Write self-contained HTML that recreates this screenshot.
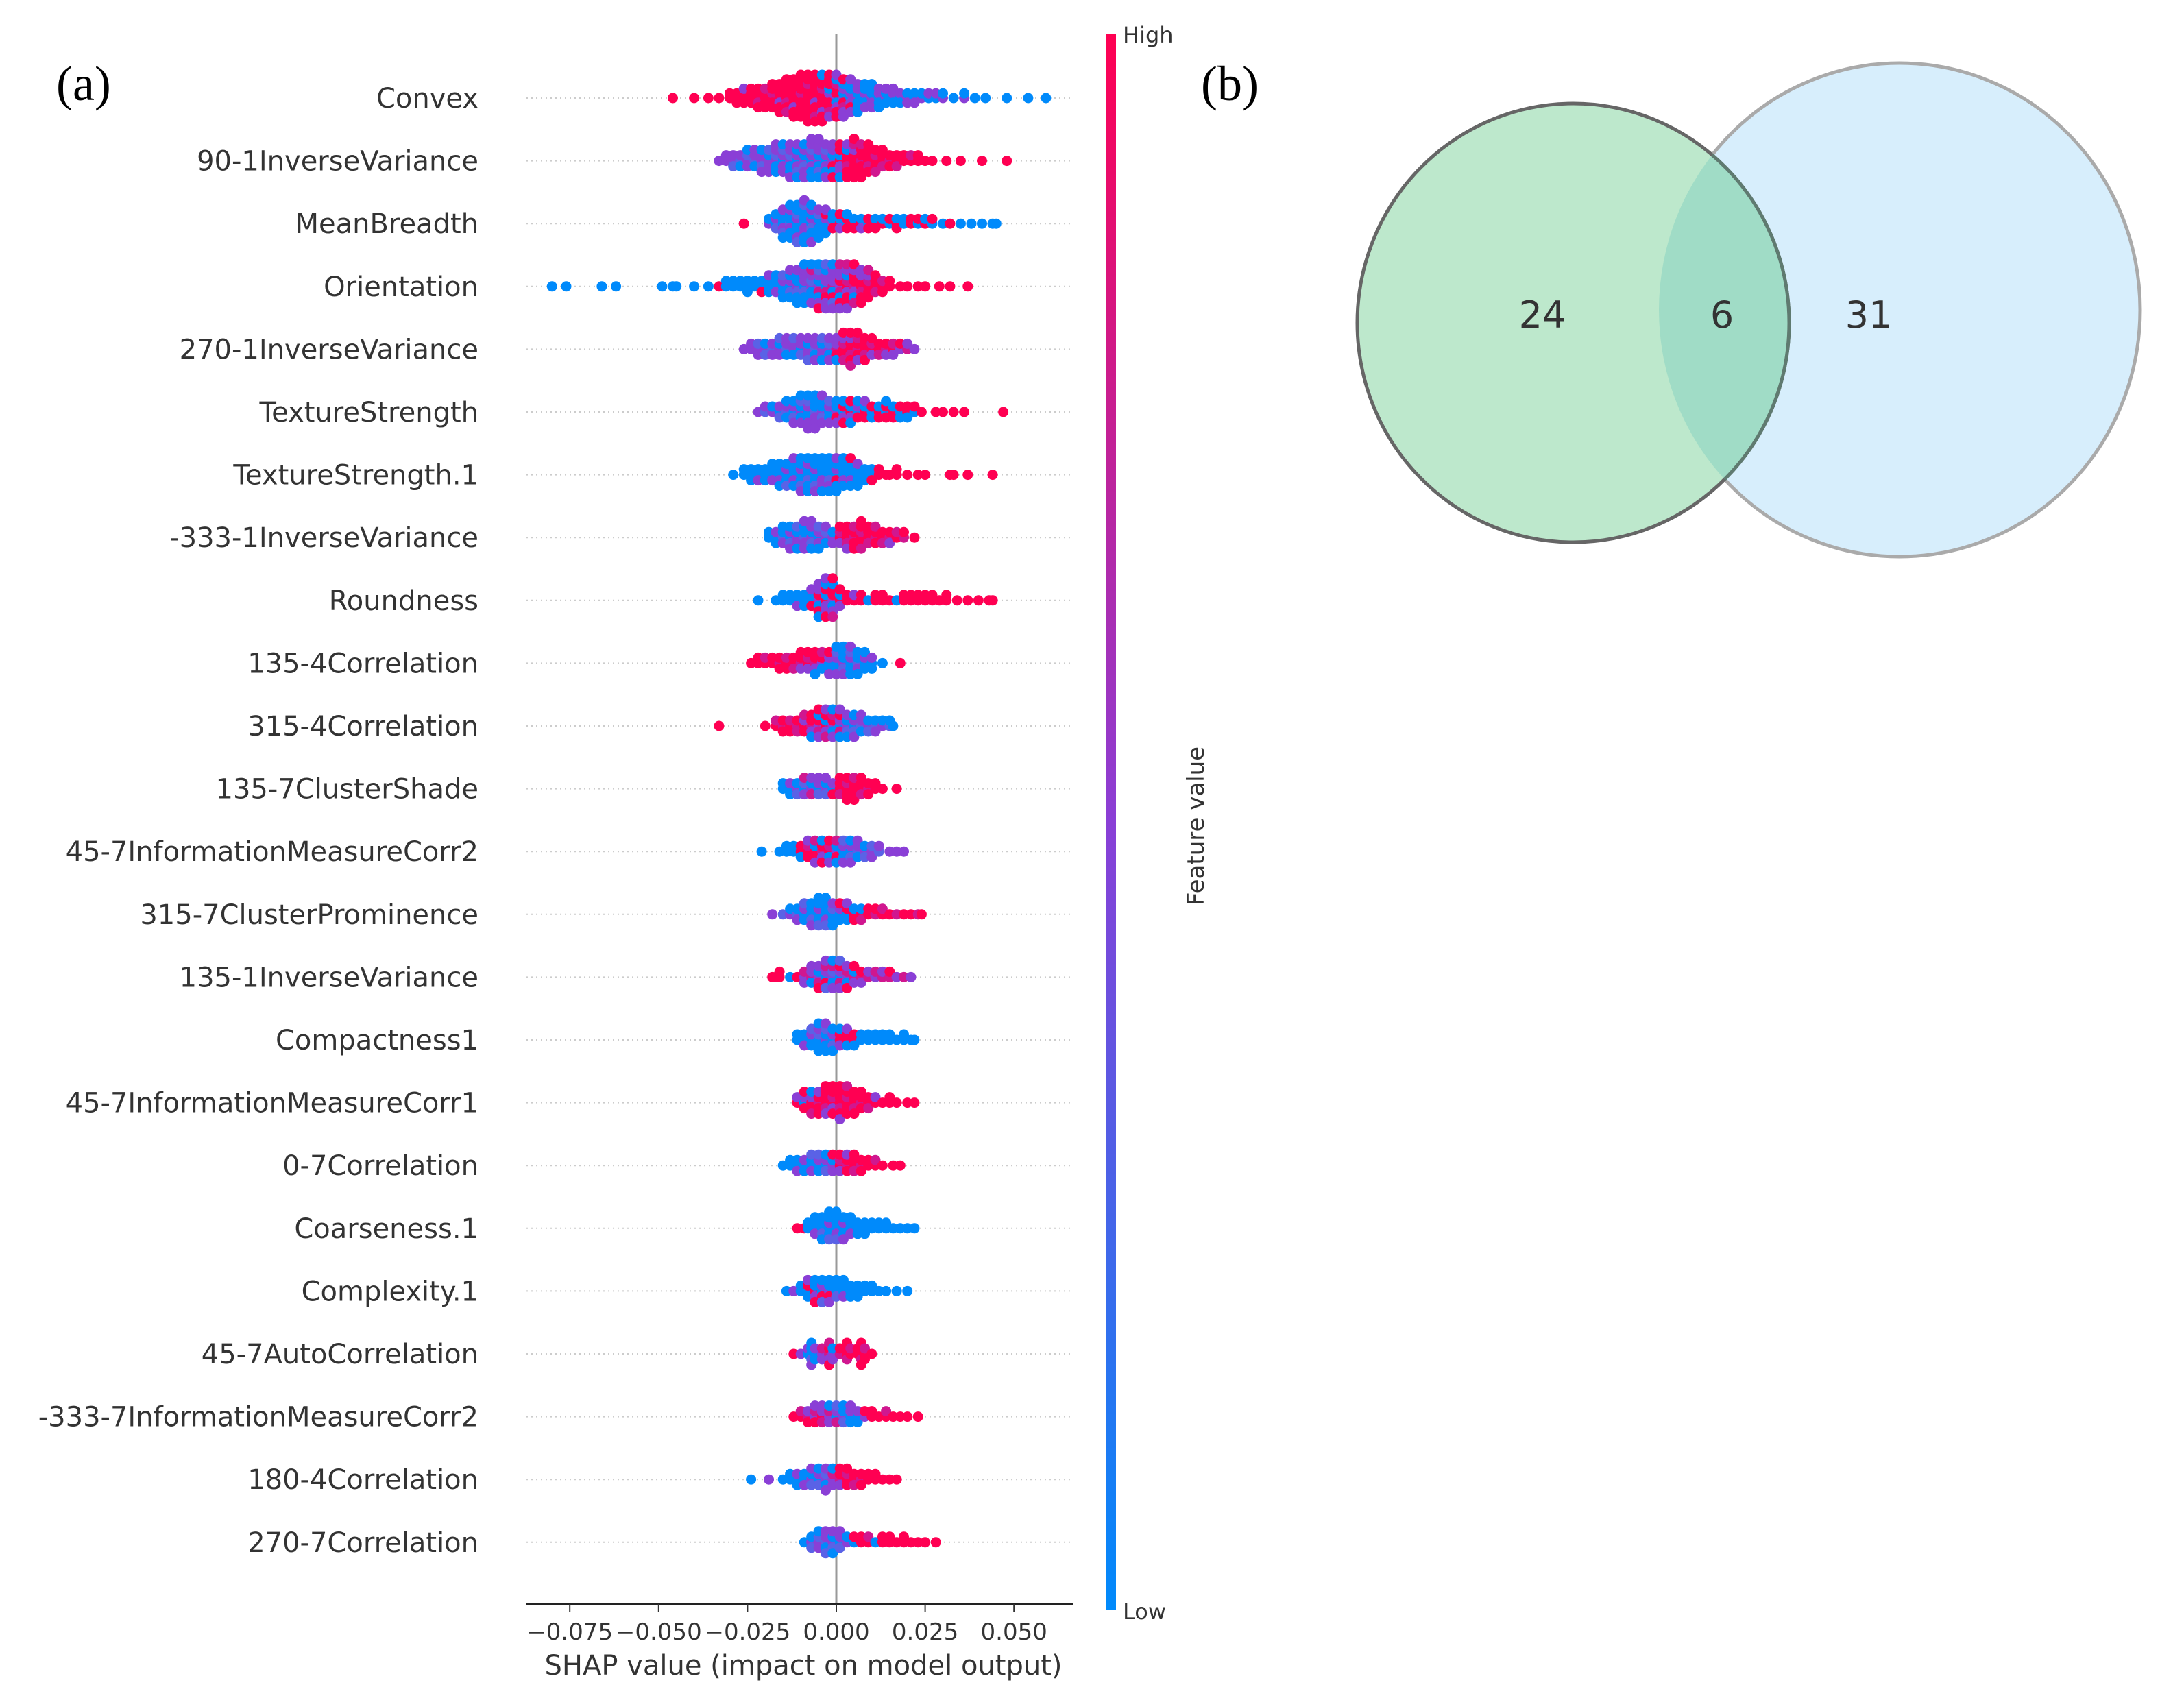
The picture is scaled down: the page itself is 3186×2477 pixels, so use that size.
<!DOCTYPE html>
<html><head><meta charset="utf-8"><style>
html,body{margin:0;padding:0;background:#fff}
svg{display:block}
</style></head><body>
<svg id="fig" width="3186" height="2477" viewBox="0 0 3186 2477" xmlns="http://www.w3.org/2000/svg">
<defs>
<linearGradient id="cbar" x1="0" y1="0" x2="0" y2="1">
<stop offset="0" stop-color="#ff0052"/><stop offset="0.5" stop-color="#8a3fd6"/><stop offset="1" stop-color="#008afb"/>
</linearGradient>
<clipPath id="blueClip"><ellipse cx="2771" cy="452" rx="351" ry="360"/></clipPath>
</defs>
<text x="82" y="146" font-family="Liberation Serif, serif" font-size="72" fill="#000">(a)</text>
<text x="1752" y="146" font-family="Liberation Serif, serif" font-size="72" fill="#000">(b)</text>
<g id="grid"></g>
<line x1="1220" y1="50" x2="1220" y2="2340" stroke="#999" stroke-width="3"/>
<g id="dots"></g>
<g id="labels"></g>
<g id="xaxis"></g>
<text x="1172" y="2443" text-anchor="middle" font-family="DejaVu Sans, sans-serif" font-size="40" fill="#333">SHAP value (impact on model output)</text>
<rect x="1614" y="50" width="14" height="2298" fill="url(#cbar)"/>
<text x="1638" y="62" font-family="DejaVu Sans, sans-serif" font-size="32" fill="#333">High</text>
<text x="1638" y="2362" font-family="DejaVu Sans, sans-serif" font-size="32" fill="#333">Low</text>
<text transform="translate(1756,1205) rotate(-90)" text-anchor="middle" font-family="DejaVu Sans, sans-serif" font-size="34" fill="#333">Feature value</text>
<g>
<ellipse cx="2771" cy="452" rx="351" ry="360" fill="#d7eefc" stroke="#aaa" stroke-width="5"/>
<ellipse cx="2295" cy="471" rx="315" ry="320" fill="#bde8cc" stroke="#666" stroke-width="5"/>
<ellipse clip-path="url(#blueClip)" cx="2295" cy="471" rx="315" ry="320" fill="#a0dcc6" stroke="#5f7a70" stroke-width="5"/>
<text x="2250" y="478" text-anchor="middle" font-family="DejaVu Sans, sans-serif" font-size="54" fill="#333">24</text>
<text x="2512" y="478" text-anchor="middle" font-family="DejaVu Sans, sans-serif" font-size="54" fill="#333">6</text>
<text x="2726" y="478" text-anchor="middle" font-family="DejaVu Sans, sans-serif" font-size="54" fill="#333">31</text>
</g>
</svg>
<script>
const features = ["Convex","90-1InverseVariance","MeanBreadth","Orientation","270-1InverseVariance","TextureStrength","TextureStrength.1","-333-1InverseVariance","Roundness","135-4Correlation","315-4Correlation","135-7ClusterShade","45-7InformationMeasureCorr2","315-7ClusterProminence","135-1InverseVariance","Compactness1","45-7InformationMeasureCorr1","0-7Correlation","Coarseness.1","Complexity.1","45-7AutoCorrelation","-333-7InformationMeasureCorr2","180-4Correlation","270-7Correlation"];
const xTicks = [-0.075,-0.05,-0.025,0,0.025,0.05];
const xTickLabels = ["\u22120.075","\u22120.050","\u22120.025","0.000","0.025","0.050"];
// SHAP values in thousandths : per-point feature-value colour codes (b low .. r high)
const row0 = "-46:r -40:r -36:r -33:r -30:rr -28:rrr -26:rrrm -24:rrrr -22:rrprr -20:rrrpr -18:rprrrr -16:rrmrrrr -14:rrprrrpr -12:rrrrmrrrr -10:rprrrrrrrr -8:rrrrrprrrrr -6:rrmrrrrrprr -4:rrrprrmrrbr -2:rmrbrrprmr 0:mrbrmprbrm 2:mbrmpbmrm 4:bmmbrbmm 6:mbbmbmb 8:bmbbmb 10:mbmbmb 12:bmbmb 14:mbbm 16:bmbm 18:bmb 20:mbm 22:bbm 24:mb 26:bm 28:bm 30:mb 33:b 36:mb 39:b 42:b 48:b 54:b 59:b";
const row1 = "-33:m -31:mm -29:mmv -27:vmb -25:mvmb -23:vmbm -21:mmvbm -19:mbmvm -17:mvbmbm -15:bmmvmb -13:mvbmbmm -11:bmmbvmb -9:mbvmmbm -7:bmmvbmbm -5:mbbmvmbm -3:bmmvbmm -1:mbrmbmr 1:rbmrmrb 3:rrpbrmr 5:rrrmrprr 7:prrrrpr 9:rrprrr 11:rprrp 13:rrpr 15:prr 17:rrp 19:rr 21:rp 23:rr 25:r 27:r 31:r 35:r 41:r 48:r";
const row2 = "-26:r -19:mb -17:bmvb -15:bbmbvmb -13:vbmbbmbb -11:bmbvbbmbv -9:bbmbmbbvbm -7:bmvbbmbbm -5:mbbvbmb -3:bmbrbm -1:mbrb 1:rbmr 3:brrb 5:rbr 7:rbm 9:brr 11:rbr 13:rb 15:br 17:rbr 19:bb 21:rr 23:br 25:rb 27:br 30:b 32:r 35:b 38:b 41:b 44:b 45:b";
const row3 = "-80:b -76:b -66:b -62:b -49:b -46:b -45:b -40:b -36:b -33:r -31:bb -29:bb -27:bb -25:bbb -23:bb -21:bbr -19:bbbm -17:bbmb -15:bmbvb -13:bmvbbm -11:mbvbbmb -9:bmvmbmbb -7:mvbmbpmb -5:mbpmbvmbr -3:bmpmrbmvm -1:pmbmrmvbm 1:mrpmbmrpm 3:rpmbrmrpm 5:prmrbmpr 7:rrpmrmr 9:rprmrp 11:rrpr 13:rpr 15:rr 18:r 20:r 23:r 25:r 29:r 32:r 37:r";
const row4 = "-26:m -24:mm -22:mvm -20:mbv -18:vmm -16:mbmv -14:vmbm -12:mmbv -10:bmvm -8:mbmmv -6:vmbmm -4:mbmvb -2:mvbmm 0:pmrmb 2:rprmpr 4:rrpmrrp 6:prrpmr 8:rrprr 10:rpmr 12:rrp 14:prm 16:rpm 18:mr 20:pm 22:m";
const row5 = "-22:m -20:vm -18:mb -16:bmv -14:vmbb -12:bmvbm -10:mbbvmb -8:bmbvmbm -6:vbmbmbm -4:mbvbmm -2:bmbvm 0:mbrbm 2:brmbr 4:rbmrb 6:bmrb 8:rbrm 10:brb 12:rbr 14:brrb 16:rbr 18:brb 20:rrb 22:br 24:r 28:r 30:r 33:r 36:r 47:r";
const row6 = "-29:b -26:bb -24:bbb -22:bbm -20:bbb -18:bbmb -16:bbmbb -14:bmbbv -12:bbmbbm -10:bmbbvbm -8:bbvmbbb -6:bmbbvbm -4:bbmbmbb -2:bbvbmbb 0:bmrbbmb 2:bbmbbb 4:bbmbbr 6:bbbmb 8:bbb 10:bbr 12:rr 14:r 15:r 17:rr 20:r 23:r 25:r 32:r 33:r 37:r 44:r";
const row7 = "-19:bb -17:bmb -15:vbmb -13:bmvbm -11:mbmvb -9:vbmbmm -7:mbvmbm -5:bmmvb -3:mvbm -1:mbm 1:rpmr 3:rrprm 5:prrpr 7:rprrpr 9:rrpr 11:prrp 13:rrp 15:prm 17:rp 19:pr 22:r";
const row8 = "-22:b -17:b -15:bb -13:bb -11:bbm -9:bbb -7:bbrm -5:mrbmrmb -3:rbmrmbrm -1:mrbrmbpr 1:rbmr 3:rr 5:rm 7:rr 9:b 11:rr 13:rr 15:r 17:b 19:rr 21:rr 23:rr 25:rr 27:rr 29:r 31:rr 34:r 37:r 40:r 43:r 44:r";
const row9 = "-24:r -22:rr -20:rp -18:rr -16:prr -14:rpr -12:rrp -10:prmr -8:rpmr -6:prmrb -4:mrbp -2:bmbrm 0:bmbvmb 2:mbvbmb 4:bmbvbm 6:vbmbb 8:bmbb 10:bmb 13:b 18:r";
const row10 = "-33:r -20:r -17:rp -15:prr -13:rpr -11:prp -9:rmrp -7:prmrb -5:mrpbmr -3:rbmrpm -1:mrbpmb 1:bmprbm 3:mbvmb 5:bmvbm 7:vmbm 9:mbv 11:vbm 13:mb 15:vb 16:b";
const row11 = "-15:bb -13:bmb -11:mbv -9:bvmp -7:mbpm -5:bmvm -3:mbvm -1:bmr 1:rrpr 3:rprrr 5:rrrpr 7:rrpr 9:prr 11:rr 13:r 17:r";
const row12 = "-21:b -16:b -14:bb -12:bb -10:rrb -8:rprm -6:rbrpm -4:prmbr -2:rpbrm 0:mbrpb 2:bmbvm 4:bmvbm 6:vmbm 8:mbv 10:mvm 12:vm 15:m 17:m 19:m";
const row13 = "-18:m -15:v -13:mb -11:vbm -9:bmbv -7:bbvbm -5:bmbbvb -3:bbmbvb -1:bvbmb 1:bmbr 3:brbm 5:rbr 7:rbp 9:rr 11:pr 13:rp 15:r 17:p 19:r 21:r 23:p 24:r";
const row14 = "-18:r -17:r -16:rr -13:b -11:r -9:mpm -7:pmbm -5:mbpmr -3:bmrpvm -1:mvbpmb 1:bmprmv 3:mpbmr 5:pbmr 7:prm 9:pm 11:mp 13:pm 15:pr 17:m 19:p 21:m";
const row15 = "-11:bb -9:bbm -7:bmbv -5:bvbmbb -3:mbbvbm -1:bmvbb 1:rrmb 3:rrbm 5:rrb 7:bb 9:bb 11:bb 13:bb 15:bb 17:b 19:bb 21:b 22:b";
const row16 = "-11:rm -9:bmrr -7:rmrbp -5:prrmr -3:rrprmr -1:rpmrrr 1:rrprrrm 3:rprrrp 5:rrprr 7:prrr 9:rrp 11:rm 13:r 15:rr 17:r 20:r 22:r";
const row17 = "-15:b -13:bb -11:bbm -9:bmb -7:bbmv -5:bmbv -3:bmvb -1:mbmr 1:rpmr 3:prrm 5:rrpr 7:prr 9:rr 11:rp 13:r 16:r 18:r";
const row18 = "-11:r -9:r -8:bb -6:bbmb -4:bbvbb -2:bmbbvb 0:bbmbvb 2:bmbbm 4:bbmb 6:bbb 8:bbb 10:bb 12:bb 14:bb 16:b 18:b 20:b 22:b";
const row19 = "-14:b -12:m -10:bb -8:brbm -6:rbmbr -4:bmrbv -2:mbrbm 0:bbvb 2:bbmb 4:bbb 6:bbb 8:bb 10:bb 12:b 14:b 17:b 20:b";
const row20 = "-12:r -10:m -8:bm -7:bbvbm -6:bmb -4:mpm -2:prmpr -1:mbm 1:pr 3:rrpr 4:rp 6:rr 7:rrprr 8:rpr 10:r";
const row21 = "-12:r -10:rp -8:pmr -6:mprm -4:rmpm -2:mpmb 0:bmpv 2:mbvb 4:bmbm 6:bmb 8:mr 10:rr 12:r 14:rp 16:r 18:r 20:r 23:r";
const row22 = "-24:b -19:m -15:b -13:bb -11:bmb -9:bbm -7:mbvm -5:bmvb -3:mvbmm -1:mpmb 1:prmr 3:rprr 5:rrp 7:prr 9:rr 11:rr 13:r 15:r 17:r";
const row23 = "-9:b -7:mbv -5:mvmb -3:vmbmv -1:mbvmb 1:bmvm 3:mb 5:br 7:rr 9:rp 11:b 13:rr 15:rr 17:r 19:rr 21:r 23:r 25:r 28:r";
const rows = [row0,row1,row2,row3,row4,row5,row6,row7,row8,row9,row10,row11,row12,row13,row14,row15,row16,row17,row18,row19,row20,row21,row22,row23];

const NS = "http://www.w3.org/2000/svg";
const X0 = 1220, PXU = 5184;
const xScale = v => X0 + v * PXU;
const Y0 = 143, DY = 91.6;
const yScale = i => Y0 + i * DY;
const colorOf = c => ({b:"#008afb", v:"#5a62e6", m:"#8a3fd6", p:"#d0178f", r:"#ff0052"})[c];

const grid = document.getElementById('grid');
const labels = document.getElementById('labels');
const dots = document.getElementById('dots');
const xaxis = document.getElementById('xaxis');

features.forEach((f, i) => {
  const y = yScale(i);
  const gl = document.createElementNS(NS, 'line');
  
  
  gl.setAttribute('x1', 768); gl.setAttribute('x2', 1566);
  gl.setAttribute('y1', y); gl.setAttribute('y2', y);
  gl.setAttribute('stroke', '#ccc'); gl.setAttribute('stroke-width', '2');
  gl.setAttribute('stroke-dasharray', '2 5');
  grid.appendChild(gl);
  const t = document.createElementNS(NS, 'text');
  
  
  t.setAttribute('x', 698); t.setAttribute('y', y + 14);
  t.setAttribute('text-anchor', 'end');
  t.setAttribute('font-family', 'DejaVu Sans, sans-serif');
  t.setAttribute('font-size', '40'); t.setAttribute('fill', '#333');
  t.textContent = f;
  labels.appendChild(t);
});

rows.forEach((row, i) => {
  const bins = row.split(' ').map(tok => { const [v, c] = tok.split(':'); return {v: +v / 1000, c}; });
  let maxHalf = 1;
  bins.forEach(b => { maxHalf = Math.max(maxHalf, Math.ceil((b.c.length - 1) / 2)); });
  const step = Math.min(8, 34 / maxHalf);
  const yc = yScale(i);
  bins.forEach(b => {
    const x = xScale(b.v);
    for (let k = 0; k < b.c.length; k++) {
      const off = Math.ceil(k / 2) * (k % 2 ? -1 : 1) * step;
      const d = document.createElementNS(NS, 'circle');
      
      
      d.setAttribute('cx', x.toFixed(1)); d.setAttribute('cy', (yc + off).toFixed(1));
      d.setAttribute('r', 7.5);
      d.setAttribute('fill', colorOf(b.c[k]));
      dots.appendChild(d);
    }
  });
});

const ax = document.createElementNS(NS, 'line');


ax.setAttribute('x1', 768); ax.setAttribute('x2', 1566); ax.setAttribute('y1', 2340); ax.setAttribute('y2', 2340);
ax.setAttribute('stroke', '#222'); ax.setAttribute('stroke-width', '3');
xaxis.appendChild(ax);
xTicks.forEach((v, j) => {
  const x = xScale(v);
  const tk = document.createElementNS(NS, 'line');
  
  
  tk.setAttribute('x1', x); tk.setAttribute('x2', x); tk.setAttribute('y1', 2340); tk.setAttribute('y2', 2352);
  tk.setAttribute('stroke', '#333'); tk.setAttribute('stroke-width', '2');
  xaxis.appendChild(tk);
  const tl = document.createElementNS(NS, 'text');
  
  
  tl.setAttribute('x', x); tl.setAttribute('y', 2392);
  tl.setAttribute('text-anchor', 'middle');
  tl.setAttribute('font-family', 'DejaVu Sans, sans-serif');
  tl.setAttribute('font-size', '34'); tl.setAttribute('fill', '#333');
  tl.textContent = xTickLabels[j];
  xaxis.appendChild(tl);
});
</script>
</body></html>
